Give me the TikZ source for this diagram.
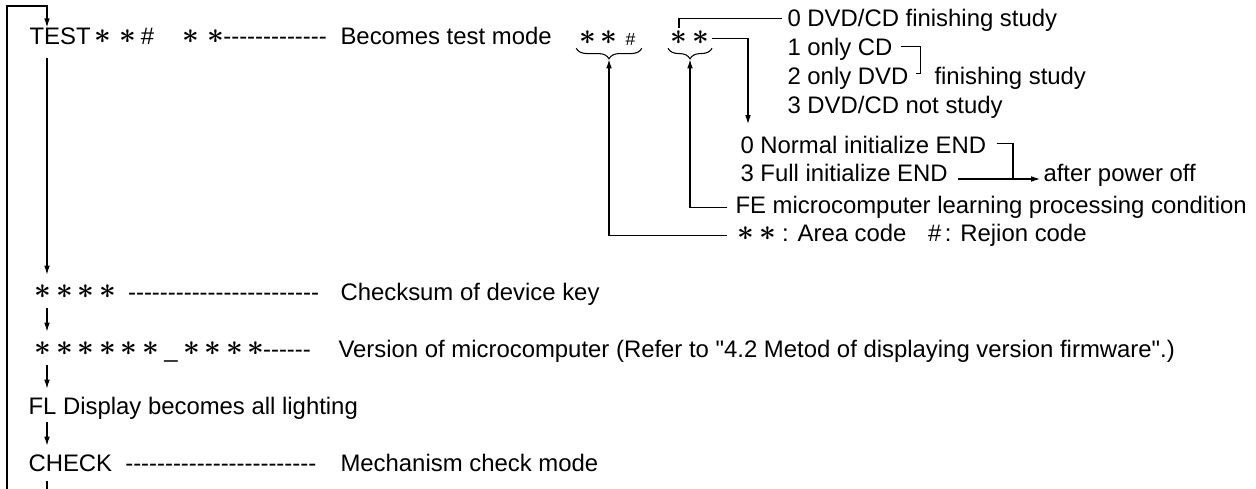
\documentclass[tikz,border=0pt]{standalone}
\usepackage{amsmath}
\usepackage{graphicx}
\usepackage{fontspec}
\setmainfont{Liberation Sans}
\usetikzlibrary{positioning, calc, arrows.meta, decorations.pathreplacing}

\newcommand{\aster}[1][0.9em]{\makebox[#1]{\raisebox{0.08em}{\scalebox{1.15}{$\boldsymbol{\ast}$}}}}
\newcommand{\dashes}[1]{\foreach \i in {1,...,#1}{-}}

\begin{document}
\begin{tikzpicture}[x=0.02cm, y=-0.02cm, font=\fontsize{13.6pt}{16pt}\selectfont, line width=0.6pt,
    txt/.style={anchor=base west, inner sep=0pt, text height=9.8pt, text depth=2.9pt},
    grp/.style={anchor=base, inner sep=0pt},
    arr/.style={-{Latex[length=5pt,width=3.2pt]}},
    brc/.style={decorate, decoration={brace, mirror, amplitude=6pt}}]

  \useasboundingbox (0,0) rectangle (1256,489);

  % Left column
  \coordinate (spine) at (47,0);
  \node[txt] (test) at (29,45) {TEST\aster[1.05em]\aster[1.05em]\#\hspace{1em}\aster[1.05em]\aster[1.05em]\hspace{-0.2em}\dashes{13}};
  \node[txt] (sum) at (32,300) {\aster\aster\aster\aster\hspace{0.4em}\dashes{24}};
  \node[txt] (ver) at (32,357) {\aster\aster\aster\aster\aster\aster\makebox[0.8em]{\_}\aster\aster\aster\aster\hspace{-0.15em}\dashes{6}};
  \node[txt] (fl) at (28,414) {FL Display becomes all lighting};
  \node[txt] (chk) at (28,471) {CHECK\hspace{0.55em}\dashes{24}};

  \node[txt] (testd) at (340,45) {Becomes test mode};
  \node[txt] (sumd) at (340,300) {Checksum of device key};
  \node[txt] (verd) at (338,357) {Version of microcomputer (Refer to \textquotedbl 4.2 Metod of displaying version firmware\textquotedbl.)};
  \node[txt] (chkd) at (340,471) {Mechanism check mode};

  % Loop and flow arrows
  \coordinate (topL) at (7,6);
  \coordinate (botL) at (7,489);
  \coordinate (botS) at (47,489);
  \draw[arr] (botL) -- (topL) -| (test.north -| spine);
  \draw[arr, shorten <=4pt, shorten >=4.4pt] (test.south -| spine) -- (sum.north -| spine);
  \draw[arr, shorten <=1.5pt, shorten >=4.4pt] (sum.south -| spine) -- (ver.north -| spine);
  \draw[arr, shorten <=1.5pt, shorten >=4.4pt] (ver.south -| spine) -- (fl.north -| spine);
  \draw[arr, shorten <=1.5pt, shorten >=4.4pt] (fl.south -| spine) -- (chk.north -| spine);
  \draw[shorten <=2.5pt] (chk.south -| spine) -- (botS);

  % Codes with braces
  \node[grp] (codeA) at (609,46) {\aster\aster\makebox[0.9em]{\fontsize{10pt}{12pt}\selectfont\#}};
  \node[grp] (codeB) at (690,46) {\aster\aster};
  \draw[brc] ([yshift=-1pt]codeA.south west) -- ([yshift=-1pt]codeA.south east);
  \draw[brc] ([yshift=-1pt]codeB.south west) -- ([yshift=-1pt]codeB.south east);
  \coordinate (tipA) at ($(codeA.south)+(0,13)$);
  \coordinate (tipB) at ($(codeB.south)+(0,13)$);

  % Right column
  \node[txt] (st0) at (787,27) {0 DVD/CD finishing study};
  \node[txt] (st1) at (787,56) {1 only CD};
  \node[txt] (st2) at (787,85) {2 only DVD};
  \node[txt] (st2b) at (934,85) {finishing study};
  \node[txt] (st3) at (787,114) {3 DVD/CD not study};
  \node[txt] (ini0) at (740,154) {0 Normal initialize END};
  \node[txt] (ini3) at (740,182) {3 Full initialize END};
  \node[txt] (off) at (1043,182) {after power off};
  \node[txt] (fe) at (735,214) {FE microcomputer learning processing condition};
  \node[txt] (area) at (735,242) {\aster\aster\hspace{0.15em}: Area code\hspace{0.9em}\#\hspace{0.15em}: Rejion code};

  % Connectors
  \draw[arr, shorten <=4.5pt] (area.west) -| (tipA);
  \draw[arr, shorten <=4.5pt] (fe.west) -| (tipB);
  \coordinate (astB) at ($(codeB.north west)!0.25!(codeB.north east)$);
  \draw[shorten <=1pt, shorten >=3pt] (astB) |- ($(st0.west)+(0,-2)$);
  \coordinate (dnB) at (748,124);
  \draw[arr] (codeB.east) -| (dnB);

  % Brackets
  \coordinate (brA0) at ($(st1.east)+(8,-3)$);
  \coordinate (brA) at ($(st2.east)+(12,-5)$);
  \draw (brA0) -| (brA) -- ++(-5,0);
  \coordinate (pwr) at (1013,179);
  \draw ($(ini0.east)+(10,-4)$) -| (pwr);
  \draw[arr, shorten <=5.5pt, shorten >=1.7pt] (ini3.east |- pwr) -- (off.west |- pwr);
\end{tikzpicture}
\end{document}
